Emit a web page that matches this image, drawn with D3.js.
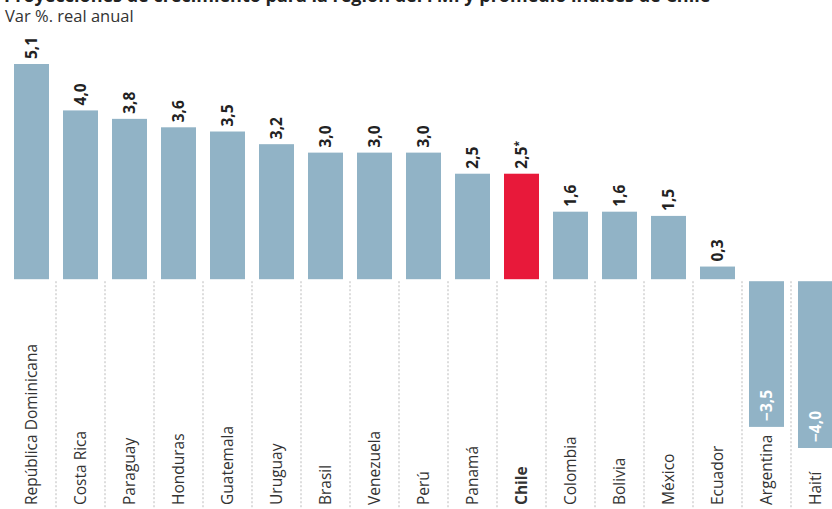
<!DOCTYPE html>
<html>
<head>
<meta charset="utf-8">
<script src="https://cdn.jsdelivr.net/npm/d3@7"></script>
<style>
  body { margin: 0; background: #fff; }
  text { font-family: "Open Sans", sans-serif; }
</style>
</head>
<body>
<script>
// Datos del gráfico
const paises = ["República Dominicana", "Costa Rica", "Paraguay", "Honduras", "Guatemala", "Uruguay",
  "Brasil", "Venezuela", "Perú", "Panamá", "Chile", "Colombia", "Bolivia", "México", "Ecuador",
  "Argentina", "Haití"];
const valores = [5.1, 4.0, 3.8, 3.6, 3.5, 3.2, 3.0, 3.0, 3.0, 2.5, 2.5, 1.6, 1.6, 1.5, 0.3, -3.5, -4.0];
const destacado = "Chile";

const width = 832, height = 509;

const svg = d3.select("body").append("svg")
  .attr("width", width)
  .attr("height", height);

// Título (cortado arriba en la imagen original) y subtítulo
svg.append("text")
  .attr("x", 4).attr("y", 2)
  .attr("font-size", 18).attr("font-weight", "bold").attr("fill", "#222")
  .text("Proyecciones de crecimiento para la región del FMI y promedio índices de Chile");

svg.append("text")
  .attr("x", 5).attr("y", 22)
  .attr("font-size", 16.5).attr("fill", "#333")
  .text("Var %. real anual");

// Escalas
const x = d3.scaleBand()
  .domain(paises)
  .range([7, 7 + 49 * paises.length])
  .paddingInner(14 / 49)
  .paddingOuter(7 / 49);

const y = d3.scaleLinear()
  .domain([-4, 5.1])
  .range([448, 64]);

const slot = x.step();
const fmt = v => d3.format(".1f")(v).replace(".", ",").replace("-", "–");

// Separadores punteados entre columnas
svg.selectAll("line.sep")
  .data(paises.slice(1))
  .enter().append("line")
  .attr("class", "sep")
  .attr("x1", d => x(d) - (slot - x.bandwidth()) / 2)
  .attr("x2", d => x(d) - (slot - x.bandwidth()) / 2)
  .attr("y1", y(0) + 2)
  .attr("y2", height)
  .attr("stroke", "#bbb")
  .attr("stroke-width", 1)
  .attr("stroke-dasharray", "2,2");

// Barras
svg.selectAll("rect.bar")
  .data(paises)
  .enter().append("rect")
  .attr("class", "bar")
  .attr("x", d => x(d))
  .attr("width", x.bandwidth())
  .attr("y", (d, i) => valores[i] >= 0 ? y(valores[i]) : y(0) + 2)
  .attr("height", (d, i) => valores[i] >= 0 ? y(0) - y(valores[i]) : y(valores[i]) - y(0) - 2)
  .attr("fill", d => d === destacado ? "#e8193a" : "#91b3c6");

// Etiquetas de valores (giradas)
const vals = svg.selectAll("text.val")
  .data(paises)
  .enter().append("text")
  .attr("class", "val")
  .attr("transform", (d, i) => {
    const cx = x(d) + x.bandwidth() / 2;
    const yy = valores[i] >= 0 ? y(valores[i]) - 5 : y(valores[i]) - 6;
    return `translate(${cx},${yy}) rotate(-90)`;
  })
  .attr("dy", "0.36em")
  .attr("text-anchor", "start")
  .attr("font-size", 15.5)
  .attr("font-weight", "bold")
  .attr("fill", (d, i) => valores[i] >= 0 ? "#222" : "#fff")
  .text((d, i) => fmt(valores[i]));

vals.filter(d => d === destacado)
  .append("tspan")
  .attr("font-size", 10)
  .attr("dy", "-0.5em")
  .text("*");

// Etiquetas de países (giradas)
svg.selectAll("text.pais")
  .data(paises)
  .enter().append("text")
  .attr("class", "pais")
  .attr("transform", d => `translate(${x(d) + x.bandwidth() / 2},505) rotate(-90)`)
  .attr("dy", "0.36em")
  .attr("text-anchor", "start")
  .attr("font-size", 15.5)
  .attr("font-weight", d => d === destacado ? "bold" : "normal")
  .attr("fill", "#333")
  .text(d => d);
</script>
</body>
</html>
